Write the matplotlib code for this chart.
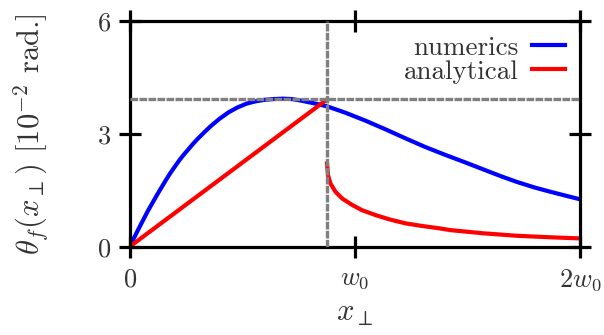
import matplotlib
matplotlib.use("Agg")
import matplotlib.pyplot as plt

plt.rcParams['font.family'] = 'serif'
plt.rcParams['font.serif'] = ['cmr10', 'DejaVu Serif']
plt.rcParams['mathtext.fontset'] = 'cm'
plt.rcParams['axes.unicode_minus'] = False

# numerics (blue), x in units of w0
x_num = [0, 0.02, 0.04, 0.06, 0.08, 0.10, 0.12, 0.14, 0.16, 0.18,
         0.20, 0.22, 0.24, 0.26, 0.28, 0.30, 0.33, 0.36, 0.40, 0.44,
         0.48, 0.52, 0.56, 0.60, 0.64, 0.68, 0.72, 0.76, 0.80, 0.84,
         0.88, 0.957, 1.046, 1.135, 1.224, 1.312, 1.401, 1.49, 1.572, 1.65,
         1.72, 1.80, 1.868, 1.94, 2.0]
y_num = [0, 0.24, 0.48, 0.71, 0.94, 1.15, 1.36, 1.56, 1.76, 1.95,
         2.12, 2.29, 2.44, 2.58, 2.72, 2.85, 3.03, 3.20, 3.40, 3.57,
         3.70, 3.80, 3.86, 3.90, 3.92, 3.93, 3.92, 3.88, 3.83, 3.78,
         3.72, 3.56, 3.35, 3.12, 2.88, 2.65, 2.44, 2.24, 2.05, 1.87,
         1.72, 1.57, 1.46, 1.35, 1.26]

# analytical (red): inner linear part and outer decaying part
x_in = [0, 0.87]
y_in = [0, 3.88]
x_out = [0.877, 0.881, 0.892, 0.914, 0.944, 0.988, 1.032, 1.092, 1.151, 1.225,
         1.299, 1.373, 1.425, 1.572, 1.72, 1.868, 2.0]
y_out = [2.21, 1.90, 1.68, 1.46, 1.28, 1.11, 0.97, 0.84, 0.73, 0.62,
         0.55, 0.49, 0.44, 0.355, 0.29, 0.25, 0.22]

x_mark = 0.876
y_mark = 3.93

xticks = [0, 1, 2]
xticklabels = ['$0$', '$w_0$', '$2w_0$']
yticks = [0, 3, 6]
yticklabels = ['$0$', '$3$', '$6$']

txt = '#333333'

fig = plt.figure(figsize=(6.04, 3.35), dpi=100)
ax = fig.add_axes([0.2147, 0.2636, 0.7453, 0.6746])

ax.plot(x_num, y_num, color='blue', lw=3.0, label='numerics', zorder=2)
ax.plot(x_in, y_in, color='red', lw=3.0, label='analytical', zorder=2)
ax.plot(x_out, y_out, color='red', lw=3.0, zorder=2)

ax.axvline(x_mark, color='#808080', lw=2.4, dashes=[2.3, 0.4], zorder=3)
ax.axhline(y_mark, color='#808080', lw=2.4, dashes=[2.3, 0.4], zorder=3)

ax.set_xlim(0, 2)
ax.set_ylim(0, 6)
ax.set_xticks(xticks)
ax.set_xticklabels(xticklabels)
ax.set_yticks(yticks)
ax.set_yticklabels(yticklabels)

for s in ax.spines.values():
    s.set_linewidth(2.3)
ax.tick_params(direction='inout', length=16, width=2.3, top=True, right=True,
               labelsize=19, labelcolor=txt)
ax.tick_params(axis='x', pad=7)
ax.tick_params(axis='y', pad=5)

ax.set_xlabel(r'$x_\perp$', fontsize=22, color=txt, labelpad=5)
ax.set_ylabel(r'$\theta_f(x_\perp)$ [$10^{-2}$ rad.]', fontsize=22, color=txt)
ax.yaxis.set_label_coords(-0.175, 0.5)

leg = ax.legend(loc='upper right', frameon=False, markerfirst=False, fontsize=19.5,
                handlelength=1.2, handletextpad=0.5, labelspacing=0.0,
                borderaxespad=0.15)
for t in leg.get_texts():
    t.set_color(txt)

fig.savefig('out.png', dpi=100)
